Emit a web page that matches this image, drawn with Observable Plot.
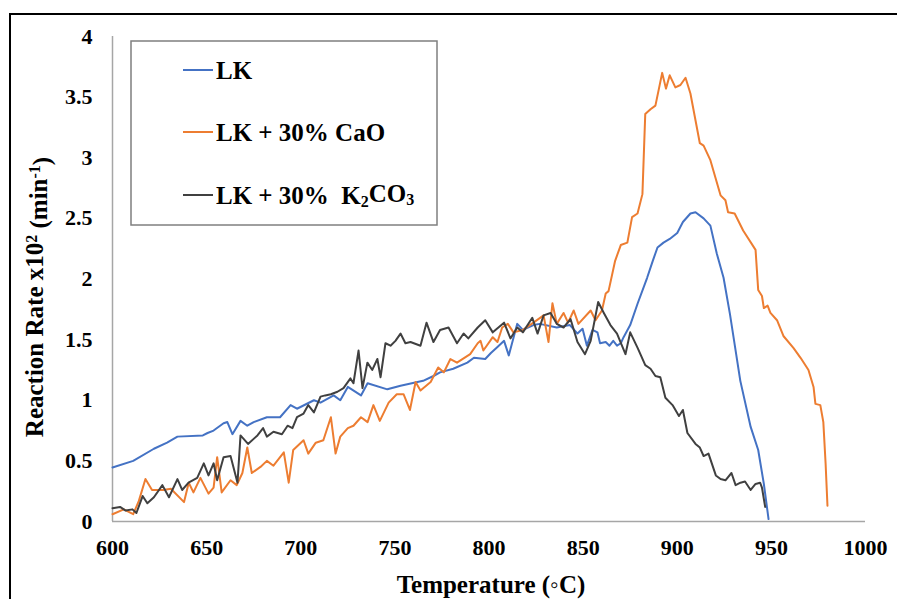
<!DOCTYPE html>
<html>
<head>
<meta charset="utf-8">
<script src="https://cdn.jsdelivr.net/npm/d3@7"></script>
<script src="https://cdn.jsdelivr.net/npm/@observablehq/plot@0.6"></script>
<style>
  html, body { margin: 0; padding: 0; background: #fff; }
  #wrap { position: relative; width: 897px; height: 599px; overflow: hidden; }
  #border { position: absolute; left: 9px; top: 13px; width: 900px; height: 600px;
            border-top: 2.5px solid #000; border-left: 2.5px solid #000; pointer-events: none; }
</style>
</head>
<body>
<div id="wrap"><div id="border"></div></div>
<script>
// ---- data ----
const xTicks = [600, 650, 700, 750, 800, 850, 900, 950, 1000];
const yTicks = [0, 0.5, 1, 1.5, 2, 2.5, 3, 3.5, 4];
const seriesNames = ["LK", "LK + 30% CaO", "LK + 30%  K2CO3"];
const seriesColors = ["#4472C4", "#ED7D31", "#404040"];

const lkT = [600, 611, 622, 629, 634.5, 648, 650.5, 653.7, 659, 661, 663.7, 668, 671.6, 675, 682, 689, 694.6, 698, 707, 710.5, 717.5, 721, 725, 732, 735.5, 746, 753, 765, 770.5, 774, 781, 788.5, 792, 798, 801, 804.5, 808, 810.5, 815, 818, 823.6, 827, 836, 843, 847, 849.7, 852, 855, 857.6, 859, 862, 864, 866, 868, 870, 871.5, 875, 879, 884, 887, 889.5, 892.7, 896, 900, 903, 907, 909.7, 914, 917.6, 921, 924.6, 928, 933.5, 939, 943, 946, 948.5];
const lkR = [0.445, 0.50, 0.60, 0.65, 0.70, 0.71, 0.73, 0.75, 0.81, 0.82, 0.72, 0.83, 0.79, 0.82, 0.86, 0.86, 0.96, 0.93, 1.00, 0.98, 1.04, 1.00, 1.11, 1.04, 1.14, 1.09, 1.12, 1.16, 1.20, 1.23, 1.26, 1.31, 1.35, 1.34, 1.39, 1.44, 1.49, 1.37, 1.63, 1.58, 1.62, 1.63, 1.60, 1.62, 1.55, 1.59, 1.45, 1.58, 1.56, 1.47, 1.48, 1.45, 1.49, 1.45, 1.47, 1.52, 1.62, 1.80, 2.01, 2.15, 2.26, 2.30, 2.33, 2.38, 2.47, 2.54, 2.55, 2.50, 2.44, 2.21, 2.01, 1.71, 1.16, 0.78, 0.59, 0.31, 0.02];

const caoT = [600, 606, 611, 614, 617.5, 621, 627, 631, 638, 640.5, 643, 646.7, 651, 653.7, 655.6, 658, 662.7, 666, 669, 671.6, 674, 678.6, 682, 685.5, 691, 693.6, 696, 701.5, 704, 708, 712, 716, 718.5, 721, 725, 728, 732, 735.5, 738.6, 742, 746.7, 751, 754.6, 758, 761, 763.6, 769, 773, 776, 779.5, 783, 790, 794, 795.5, 797, 802, 804.5, 807, 810, 813, 818, 823.6, 829, 831.6, 833.7, 836, 839.6, 842, 845, 847.5, 854, 856.6, 860, 862, 863.5, 867, 870, 873.5, 876, 878.9, 881.5, 883, 885.8, 888.4, 892, 894, 896, 899, 901.7, 904.4, 907, 912, 914, 917.6, 923, 925.6, 927, 930.5, 935, 941.6, 943, 945, 946, 948, 949.5, 953, 956.4, 961.8, 965.5, 969.7, 972.4, 973.4, 976, 977.6, 978.8, 979.8];
const caoR = [0.06, 0.10, 0.06, 0.17, 0.35, 0.26, 0.26, 0.27, 0.16, 0.32, 0.24, 0.36, 0.23, 0.28, 0.53, 0.24, 0.34, 0.30, 0.40, 0.61, 0.40, 0.45, 0.50, 0.46, 0.57, 0.32, 0.59, 0.67, 0.56, 0.65, 0.67, 0.86, 0.56, 0.70, 0.77, 0.79, 0.86, 0.82, 0.96, 0.83, 0.98, 1.05, 1.05, 0.92, 1.15, 1.08, 1.15, 1.27, 1.23, 1.34, 1.31, 1.38, 1.47, 1.49, 1.41, 1.52, 1.48, 1.60, 1.63, 1.56, 1.58, 1.64, 1.70, 1.48, 1.80, 1.63, 1.72, 1.64, 1.74, 1.63, 1.74, 1.66, 1.74, 1.88, 1.90, 2.15, 2.28, 2.30, 2.51, 2.54, 2.70, 3.36, 3.40, 3.43, 3.70, 3.57, 3.68, 3.58, 3.60, 3.66, 3.53, 3.12, 3.10, 2.98, 2.69, 2.65, 2.55, 2.54, 2.40, 2.24, 1.91, 1.86, 1.76, 1.78, 1.72, 1.66, 1.53, 1.43, 1.35, 1.25, 1.11, 0.97, 0.96, 0.82, 0.48, 0.13];

const kT = [600, 604, 607, 610.6, 612.7, 616, 618.5, 622, 626.5, 630, 634.5, 637, 640.4, 645, 648.5, 651, 653.7, 655.6, 659, 662.7, 666.4, 668, 672, 677, 680, 682, 685.5, 690, 693, 695.6, 698, 701.5, 704, 707, 710.5, 713, 716, 719.5, 722.7, 726.4, 728, 730.7, 732.8, 735.4, 738, 740.7, 742.4, 745, 747.7, 750.3, 753, 755.6, 758.3, 763.6, 766.8, 770.5, 774, 778.5, 783, 786.5, 789, 794, 798, 802, 808, 811.4, 815, 818, 823, 825.8, 829, 832.7, 836, 839.6, 843.3, 847, 851, 854, 858, 861, 864.5, 868, 872.5, 875, 879, 883, 885.8, 888.4, 891, 893.7, 897.5, 900.9, 903, 905.4, 909.7, 912, 914, 916.6, 920.5, 923, 925.6, 928.8, 931, 933.6, 936, 939, 941.6, 944, 945, 946.7];
const kR = [0.11, 0.12, 0.09, 0.10, 0.07, 0.21, 0.15, 0.20, 0.30, 0.20, 0.35, 0.26, 0.32, 0.36, 0.48, 0.38, 0.48, 0.34, 0.53, 0.54, 0.32, 0.71, 0.64, 0.71, 0.77, 0.70, 0.74, 0.72, 0.79, 0.77, 0.86, 0.89, 0.96, 0.90, 1.03, 1.04, 1.05, 1.07, 1.10, 1.18, 1.14, 1.41, 1.10, 1.31, 1.25, 1.34, 1.19, 1.47, 1.45, 1.49, 1.55, 1.47, 1.48, 1.45, 1.64, 1.48, 1.58, 1.60, 1.47, 1.55, 1.51, 1.60, 1.66, 1.56, 1.64, 1.51, 1.60, 1.56, 1.68, 1.55, 1.70, 1.72, 1.63, 1.60, 1.67, 1.48, 1.38, 1.49, 1.81, 1.72, 1.62, 1.55, 1.38, 1.56, 1.43, 1.29, 1.26, 1.20, 1.19, 1.02, 0.96, 0.87, 0.92, 0.73, 0.64, 0.61, 0.54, 0.56, 0.38, 0.35, 0.34, 0.40, 0.30, 0.32, 0.33, 0.26, 0.31, 0.32, 0.28, 0.12];

// ---- tables built from the arrays ----
const toRows = (T, R) => T.map((t, i) => ({T: t, R: R[i]}));
const lk = toRows(lkT, lkR);
const cao = toRows(caoT, caoR);
const k2 = toRows(kT, kR);

const FONT = "'Liberation Serif', 'Times New Roman', Times, serif";

const chart = Plot.plot({
  width: 897,
  height: 599,
  marginLeft: 112,
  marginRight: 32,
  marginTop: 36,
  marginBottom: 78,
  style: {fontFamily: FONT, fontWeight: "bold", fontSize: "22px", color: "#000", background: "transparent", overflow: "visible"},
  x: {domain: [600, 1000], label: null},
  y: {domain: [0, 4], label: null},
  marks: [
    Plot.axisX({ticks: xTicks, tickSize: 0, tickPadding: 18, tickFormat: d => String(d), label: null, fontSize: 22, fontWeight: "bold"}),
    Plot.axisY({ticks: yTicks, tickSize: 0, tickPadding: 20, tickFormat: d => String(d), label: null, fontSize: 22, fontWeight: "bold"}),
    Plot.ruleY([0], {stroke: "#a6a6a6", strokeWidth: 1.5}),
    Plot.ruleX([600], {stroke: "#a6a6a6", strokeWidth: 1.5}),
    Plot.line(lk, {x: "T", y: "R", stroke: seriesColors[0], strokeWidth: 2}),
    Plot.line(cao, {x: "T", y: "R", stroke: seriesColors[1], strokeWidth: 2}),
    Plot.line(k2, {x: "T", y: "R", stroke: seriesColors[2], strokeWidth: 2})
  ]
});

const wrap = document.getElementById("wrap");
wrap.insertBefore(chart, wrap.firstChild);
chart.style.position = "absolute";
chart.style.left = "0px";
chart.style.top = "0px";

const svg = d3.select(chart);

// x axis title
svg.append("text")
  .attr("x", 491).attr("y", 593)
  .attr("text-anchor", "middle")
  .style("font-family", FONT).style("font-weight", "bold").style("font-size", "25px")
  .attr("fill", "#000")
  .text("Temperature (\u25E6C)");

// y axis title with superscripts
const yt = svg.append("text")
  .attr("transform", "translate(43,297) rotate(-90)")
  .attr("text-anchor", "middle")
  .style("font-family", FONT).style("font-weight", "bold").style("font-size", "25px")
  .attr("fill", "#000");
yt.append("tspan").text("Reaction Rate x10");
yt.append("tspan").attr("dy", "-0.4em").style("font-size", "16px").text("2");
yt.append("tspan").attr("dy", "0.4em").text(" (min");
yt.append("tspan").attr("dy", "-0.4em").style("font-size", "16px").text("-1");
yt.append("tspan").attr("dy", "0.4em").text(")");

// legend
const lg = svg.append("g").attr("text-anchor", "start");
lg.append("rect").attr("x", 131).attr("y", 41).attr("width", 306).attr("height", 184)
  .attr("fill", "#fff").attr("stroke", "#7f7f7f").attr("stroke-width", 1.5);
const rowsY = [70, 132, 195];
seriesNames.forEach((name, i) => {
  lg.append("line").attr("x1", 183).attr("x2", 213).attr("y1", rowsY[i]).attr("y2", rowsY[i])
    .attr("stroke", seriesColors[i]).attr("stroke-width", 2);
  const t = lg.append("text").attr("x", 216).attr("y", rowsY[i] + 9)
    .attr("text-anchor", "start")
    .style("font-family", FONT).style("font-weight", "bold").style("font-size", "25px")
    .attr("fill", "#000").attr("xml:space", "preserve").style("white-space", "pre");
  if (i < 2) {
    t.text(name);
  } else {
    t.append("tspan").text("LK + 30%  K");
    t.append("tspan").attr("dy", "0.2em").style("font-size", "16px").text("2");
    t.append("tspan").attr("dy", "-0.2em").text("CO");
    t.append("tspan").attr("dy", "0.2em").style("font-size", "16px").text("3");
  }
});
</script>
</body>
</html>
